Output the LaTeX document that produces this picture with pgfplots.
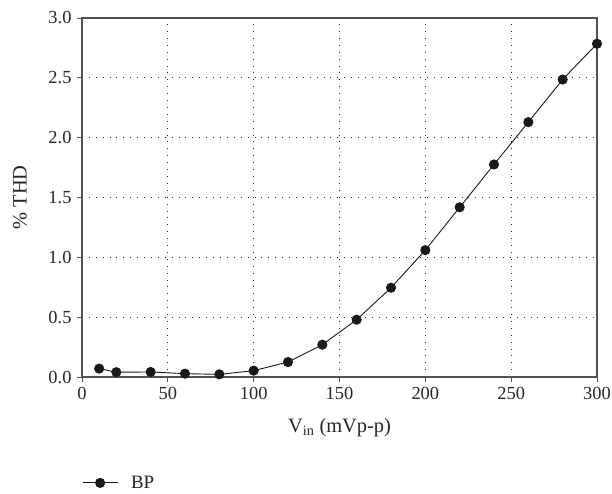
\documentclass[border=0pt]{standalone}
\usepackage{fontspec}
\setmainfont{Liberation Serif}
\usepackage{pgfplots}
\pgfplotsset{compat=1.18}
\begin{document}
\begin{tikzpicture}[x=1bp,y=1bp]
\begin{axis}[
  name=ax,
  scale only axis,
  width=515bp, height=359bp,
  xmin=0, xmax=300, ymin=0, ymax=3.0,
  xtick={0,50,...,300},
  ytick={0,0.5,...,3.0},
  yticklabel style={/pgf/number format/fixed, /pgf/number format/fixed zerofill, /pgf/number format/precision=1, xshift=-2bp},
  /pgf/number format/assume math mode=true,
  ticklabel style={font=\fontsize{18.5}{21}\selectfont, text=black!85},
  xticklabel style={yshift=-2bp},
  tick align=outside,
  tick pos=left,
  major tick length=5bp,
  axis line style={draw=black!68, line width=1.3pt},
  tick style={draw=black!68, line width=1pt},
  grid=major,
  grid style={dash pattern=on 0.9bp off 6bp, black!85, line width=0.9bp},
  xlabel={V\textsubscript{in} (mVp-p)},
  ylabel={\% THD},
  label style={font=\fontsize{20.5}{23}\selectfont, text=black!85},
  xlabel style={at={(axis description cs:0.5,-0.142)}, anchor=center},
  ylabel style={at={(axis description cs:-0.1204,0.5)}, anchor=center},
  legend style={at={(0,-0.295)}, anchor=west, draw=none, fill=none, inner sep=0pt,
    font=\fontsize{19}{22}\selectfont, text=black!85,
    nodes={inner sep=0pt}},
  legend image code/.code={
    \draw[#1, mark repeat=2, mark phase=2] plot coordinates {(0bp,0bp) (17.5bp,0bp) (35bp,0bp)};
  },
  legend cell align=left,
]
\addplot[black!90, line width=0.9pt, mark=*, mark size=4.6bp, mark options={fill=black!90, draw=black!90}] coordinates {
(10,0.07) (20,0.04) (40,0.042) (60,0.028) (80,0.022) (100,0.053) (120,0.125) (140,0.27) (160,0.479) (180,0.746) (200,1.06) (220,1.418) (240,1.776) (260,2.13) (280,2.486) (300,2.785)
};
\addlegendentry{\hspace{13bp}BP}
\end{axis}
\pgfresetboundingbox
\path[use as bounding box] ([shift={(-82bp,-117bp)}]ax.south west) rectangle ([shift={(15bp,18bp)}]ax.north east);
\end{tikzpicture}
\end{document}
